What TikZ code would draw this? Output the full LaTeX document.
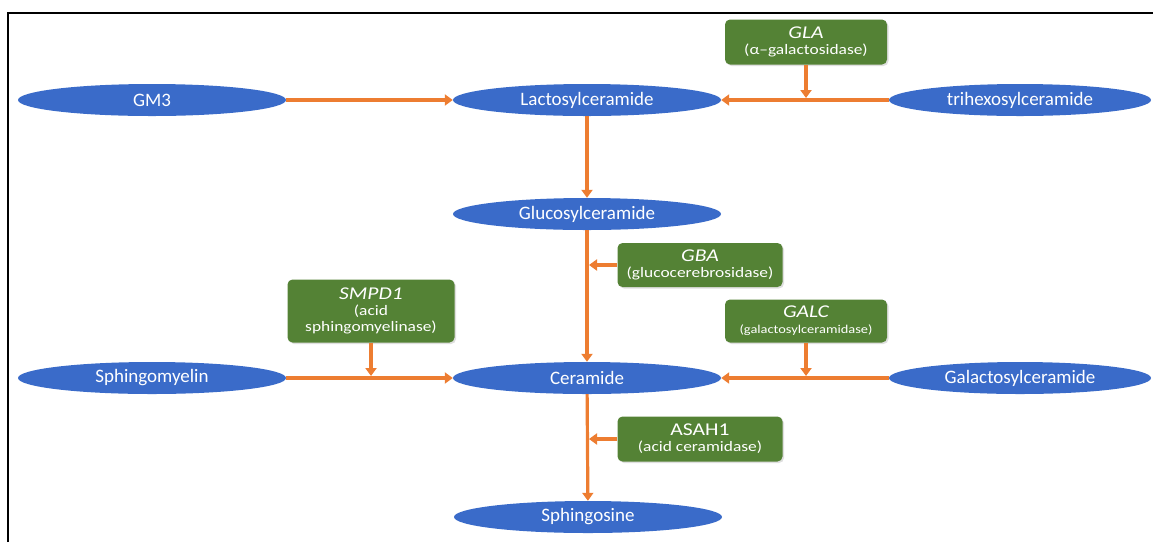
\documentclass[tikz,border=0pt]{standalone}
\usepackage{fontspec}
\setmainfont{Carlito}
\newfontfamily\boxfont{Carlito}[FakeStretch=1.2]
\usetikzlibrary{shapes.geometric,arrows.meta,shadows}
\definecolor{eblue}{HTML}{3A6BC9}
\definecolor{egreen}{HTML}{548235}
\definecolor{eorange}{HTML}{ED7D31}
\tikzset{
  met/.style={ellipse, fill=eblue, text=white, minimum width=268pt, minimum height=32pt, inner sep=0pt, font=\fontsize{19}{21}\selectfont},
  enz/.style={rounded corners=5pt, fill=egreen, text=white, inner sep=0pt, align=center,
    font=\boxfont\fontsize{14.5}{16}\selectfont,
    drop shadow={opacity=0.25, shadow xshift=1.5pt, shadow yshift=-1.5pt}},
  arr/.style={draw=eorange, line width=3.2pt, -{Triangle[width=11pt,length=8pt]}},
  frame/.style={line width=2pt, black}
}
\newcommand{\gn}[1]{{\fontsize{18}{16}\selectfont #1}}
\newcommand{\sm}[1]{{\fontsize{12}{16}\selectfont #1}}
\begin{document}
\begin{tikzpicture}[x=1pt,y=-1pt]
\useasboundingbox (0,0) rectangle (1153,542);
\draw[frame] (8,542) -- (8,13) -- (1153,13);

\node[met] (gm3) at (152,100) {GM3};
\node[met] (lacto) at (587,100) {Lactosylceramide};
\node[met, minimum width=262pt] (trihex) at (1020,100) {trihexosylceramide};
\node[met] (gluco) at (587,214) {Glucosylceramide};
\node[met] (sphm) at (152,378) {Sphingomyelin};
\node[met] (cer) at (587,378) {Ceramide};
\node[met, minimum width=262pt] (galcer) at (1020,378) {Galactosylceramide};
\node[met] (sphs) at (588,517) {Sphingosine};

\node[enz, minimum width=162pt, minimum height=45pt] (gla) at (806,42)
  {\gn{\itshape GLA}\\(α–galactosidase)};
\node[enz, minimum width=165pt, minimum height=44pt] (gba) at (700,265)
  {\gn{\itshape GBA}\\(glucocerebrosidase)};
\node[enz, minimum width=167pt, minimum height=63pt] (smpd) at (371,311)
  {\gn{\itshape SMPD1}\\(acid\\sphingomyelinase)};
\node[enz, minimum width=162pt, minimum height=43pt] (galc) at (806,321)
  {\gn{\itshape GALC}\\\sm{(galactosylceramidase)}};
\node[enz, minimum width=165pt, minimum height=45pt] (asah) at (700,439)
  {\gn{ASAH1}\\(acid ceramidase)};

\draw[arr] (gm3) -- (lacto);
\draw[arr] (trihex) -- (lacto);
\draw[arr, shorten >=2pt] (gla.south) -- (gla.south |- lacto.center);
\draw[arr] (lacto) -- (gluco);
\draw[arr] (gluco) -- (cer);
\draw[arr, shorten >=2pt] (gba.west) -- (gba.west -| gluco.center);
\draw[arr] (sphm) -- (cer);
\draw[arr, shorten >=2pt] (smpd.south) -- (smpd.south |- sphm.center);
\draw[arr] (galcer) -- (cer);
\draw[arr, shorten >=2pt] (galc.south) -- (galc.south |- galcer.center);
\draw[arr] (cer) -- (sphs);
\draw[arr, shorten >=2pt] (asah.west) -- (asah.west -| cer.center);
\end{tikzpicture}
\end{document}
